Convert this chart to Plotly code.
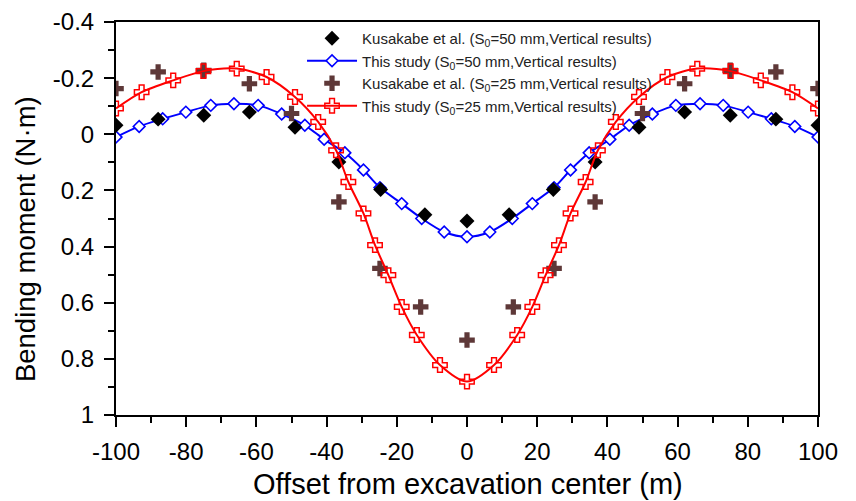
import plotly.graph_objects as go

# ---- data ----
red_x = [-100, -92.7, -83.7, -75.1, -65.6, -57.1, -49.0, -42.4, -37.3, -33.8, -29.5, -26.2, -22.4, -18.6, -14.3, -7.7, 0,
         7.7, 14.3, 18.6, 22.4, 26.2, 29.5, 33.8, 37.3, 42.4, 49.0, 57.1, 65.6, 75.1, 83.7, 92.7, 100]
red_y = [-0.092, -0.150, -0.192, -0.225, -0.234, -0.204, -0.133, -0.044, 0.057, 0.170, 0.282, 0.395, 0.502, 0.615, 0.715, 0.822, 0.881,
         0.822, 0.715, 0.615, 0.502, 0.395, 0.282, 0.170, 0.057, -0.044, -0.133, -0.204, -0.234, -0.225, -0.192, -0.150, -0.092]

blue_x = [-100, -93.4, -86.7, -80.1, -73.0, -66.4, -59.5, -52.8, -46.2, -40.7, -34.8, -29.5, -24.8, -18.6, -12.9, -6.5, 0,
          6.5, 12.9, 18.6, 24.8, 29.5, 34.8, 40.7, 46.2, 52.8, 59.5, 66.4, 73.0, 80.1, 86.7, 93.4, 100]
blue_y = [0.010, -0.028, -0.055, -0.079, -0.103, -0.109, -0.103, -0.072, -0.032, 0.018, 0.066, 0.127, 0.190, 0.247, 0.300, 0.348, 0.365,
          0.348, 0.300, 0.247, 0.190, 0.127, 0.066, 0.018, -0.032, -0.072, -0.103, -0.109, -0.103, -0.079, -0.055, -0.028, 0.010]

kus50_x = [-100, -88, -75, -62, -49, -36.5, -24.6, -12, 0, 12, 24.6, 36.5, 49, 62, 75, 88, 100]
kus50_y = [-0.032, -0.054, -0.068, -0.079, -0.025, 0.099, 0.197, 0.287, 0.309, 0.287, 0.197, 0.099, -0.025, -0.079, -0.068, -0.054, -0.032]

kus25_x = [-100, -88, -75, -62, -50, -36.5, -24.8, -13.2, 0, 13.2, 24.8, 36.5, 50, 62, 75, 88, 100]
kus25_y = [-0.163, -0.222, -0.228, -0.180, -0.074, 0.241, 0.478, 0.615, 0.733, 0.615, 0.478, 0.241, -0.074, -0.180, -0.228, -0.222, -0.163]

x_ticks = [-100, -80, -60, -40, -20, 0, 20, 40, 60, 80, 100]
x_ticktext = ["-100", "-80", "-60", "-40", "-20", "0", "20", "40", "60", "80", "100"]
y_ticks = [-0.4, -0.2, 0, 0.2, 0.4, 0.6, 0.8, 1.0]
y_ticktext = ["-0.4", "-0.2", "0", "0.2", "0.4", "0.6", "0.8", "1"]

x_title = "Offset from excavation center (m)"
y_title = "Bending moment (N·m)"

names = [
    "Kusakabe et al. (S<sub>0</sub>=50 mm,Vertical results)",
    "This study (S<sub>0</sub>=50 mm,Vertical results)",
    "Kusakabe et al. (S<sub>0</sub>=25 mm,Vertical results)",
    "This study (S<sub>0</sub>=25 mm,Vertical results)",
]

FONT = "Liberation Sans, Arial, Helvetica, sans-serif"

fig = go.Figure()

fig.add_trace(go.Scatter(
    x=blue_x, y=blue_y, mode="lines+markers", name=names[1], legendrank=2,
    line=dict(color="#0000ff", width=2, shape="spline", smoothing=0.8),
    marker=dict(symbol="diamond", size=9, color="white", line=dict(color="#0000ff", width=1.6)),
))
fig.add_trace(go.Scatter(
    x=kus50_x, y=kus50_y, mode="markers", name=names[0], legendrank=1,
    marker=dict(symbol="diamond", size=11.5, color="black", line=dict(width=0)),
))
fig.add_trace(go.Scatter(
    x=kus25_x, y=kus25_y, mode="markers", name=names[2], legendrank=3,
    marker=dict(symbol="cross", size=13, color="#5e3838", line=dict(width=0)),
))
fig.add_trace(go.Scatter(
    x=red_x, y=red_y, mode="lines+markers", name=names[3], legendrank=4,
    line=dict(color="#ff0000", width=2, shape="spline", smoothing=0.8),
    marker=dict(symbol="cross-open", size=12, color="#ff0000", line=dict(color="#ff0000", width=1.5)),
))

axis_common = dict(
    showline=True, linecolor="black", linewidth=2, mirror=True,
    ticks="outside", ticklen=10, tickwidth=2, tickcolor="black",
    showgrid=False, zeroline=False, automargin=False,
    tickfont=dict(family=FONT, size=24, color="black"),
)

fig.update_xaxes(
    range=[-100, 100], tickvals=x_ticks, ticktext=x_ticktext,
    minor=dict(dtick=10, ticks="outside", ticklen=6, tickwidth=2, tickcolor="black", showgrid=False),
    ticklabelstandoff=4,
    **axis_common,
)
fig.update_yaxes(
    range=[1.0, -0.4], tickvals=y_ticks, ticktext=y_ticktext,
    minor=dict(dtick=0.1, ticks="outside", ticklen=6, tickwidth=2, tickcolor="black", showgrid=False),
    ticklabelstandoff=5,
    **axis_common,
)

# axis titles placed as annotations for exact positioning
fig.add_annotation(
    text=x_title, xref="paper", yref="paper", x=0.5014, y=-0.176,
    xanchor="center", yanchor="middle", showarrow=False,
    font=dict(family=FONT, size=29, color="black"),
)
fig.add_annotation(
    text=y_title, xref="paper", yref="paper", x=-0.128, y=0.448,
    xanchor="center", yanchor="middle", showarrow=False, textangle=-90,
    font=dict(family=FONT, size=27.5, color="black"),
)

fig.update_layout(
    width=856, height=501,
    margin=dict(l=116, r=38, t=22, b=86),
    plot_bgcolor="white", paper_bgcolor="white",
    showlegend=True,
    legend=dict(
        x=0.265, y=1.0, xanchor="left", yanchor="top",
        bgcolor="rgba(0,0,0,0)", borderwidth=0,
        font=dict(family=FONT, size=15, color="#222222"),
        itemwidth=50, tracegroupgap=0,
    ),
)

fig.write_html("out.html")
